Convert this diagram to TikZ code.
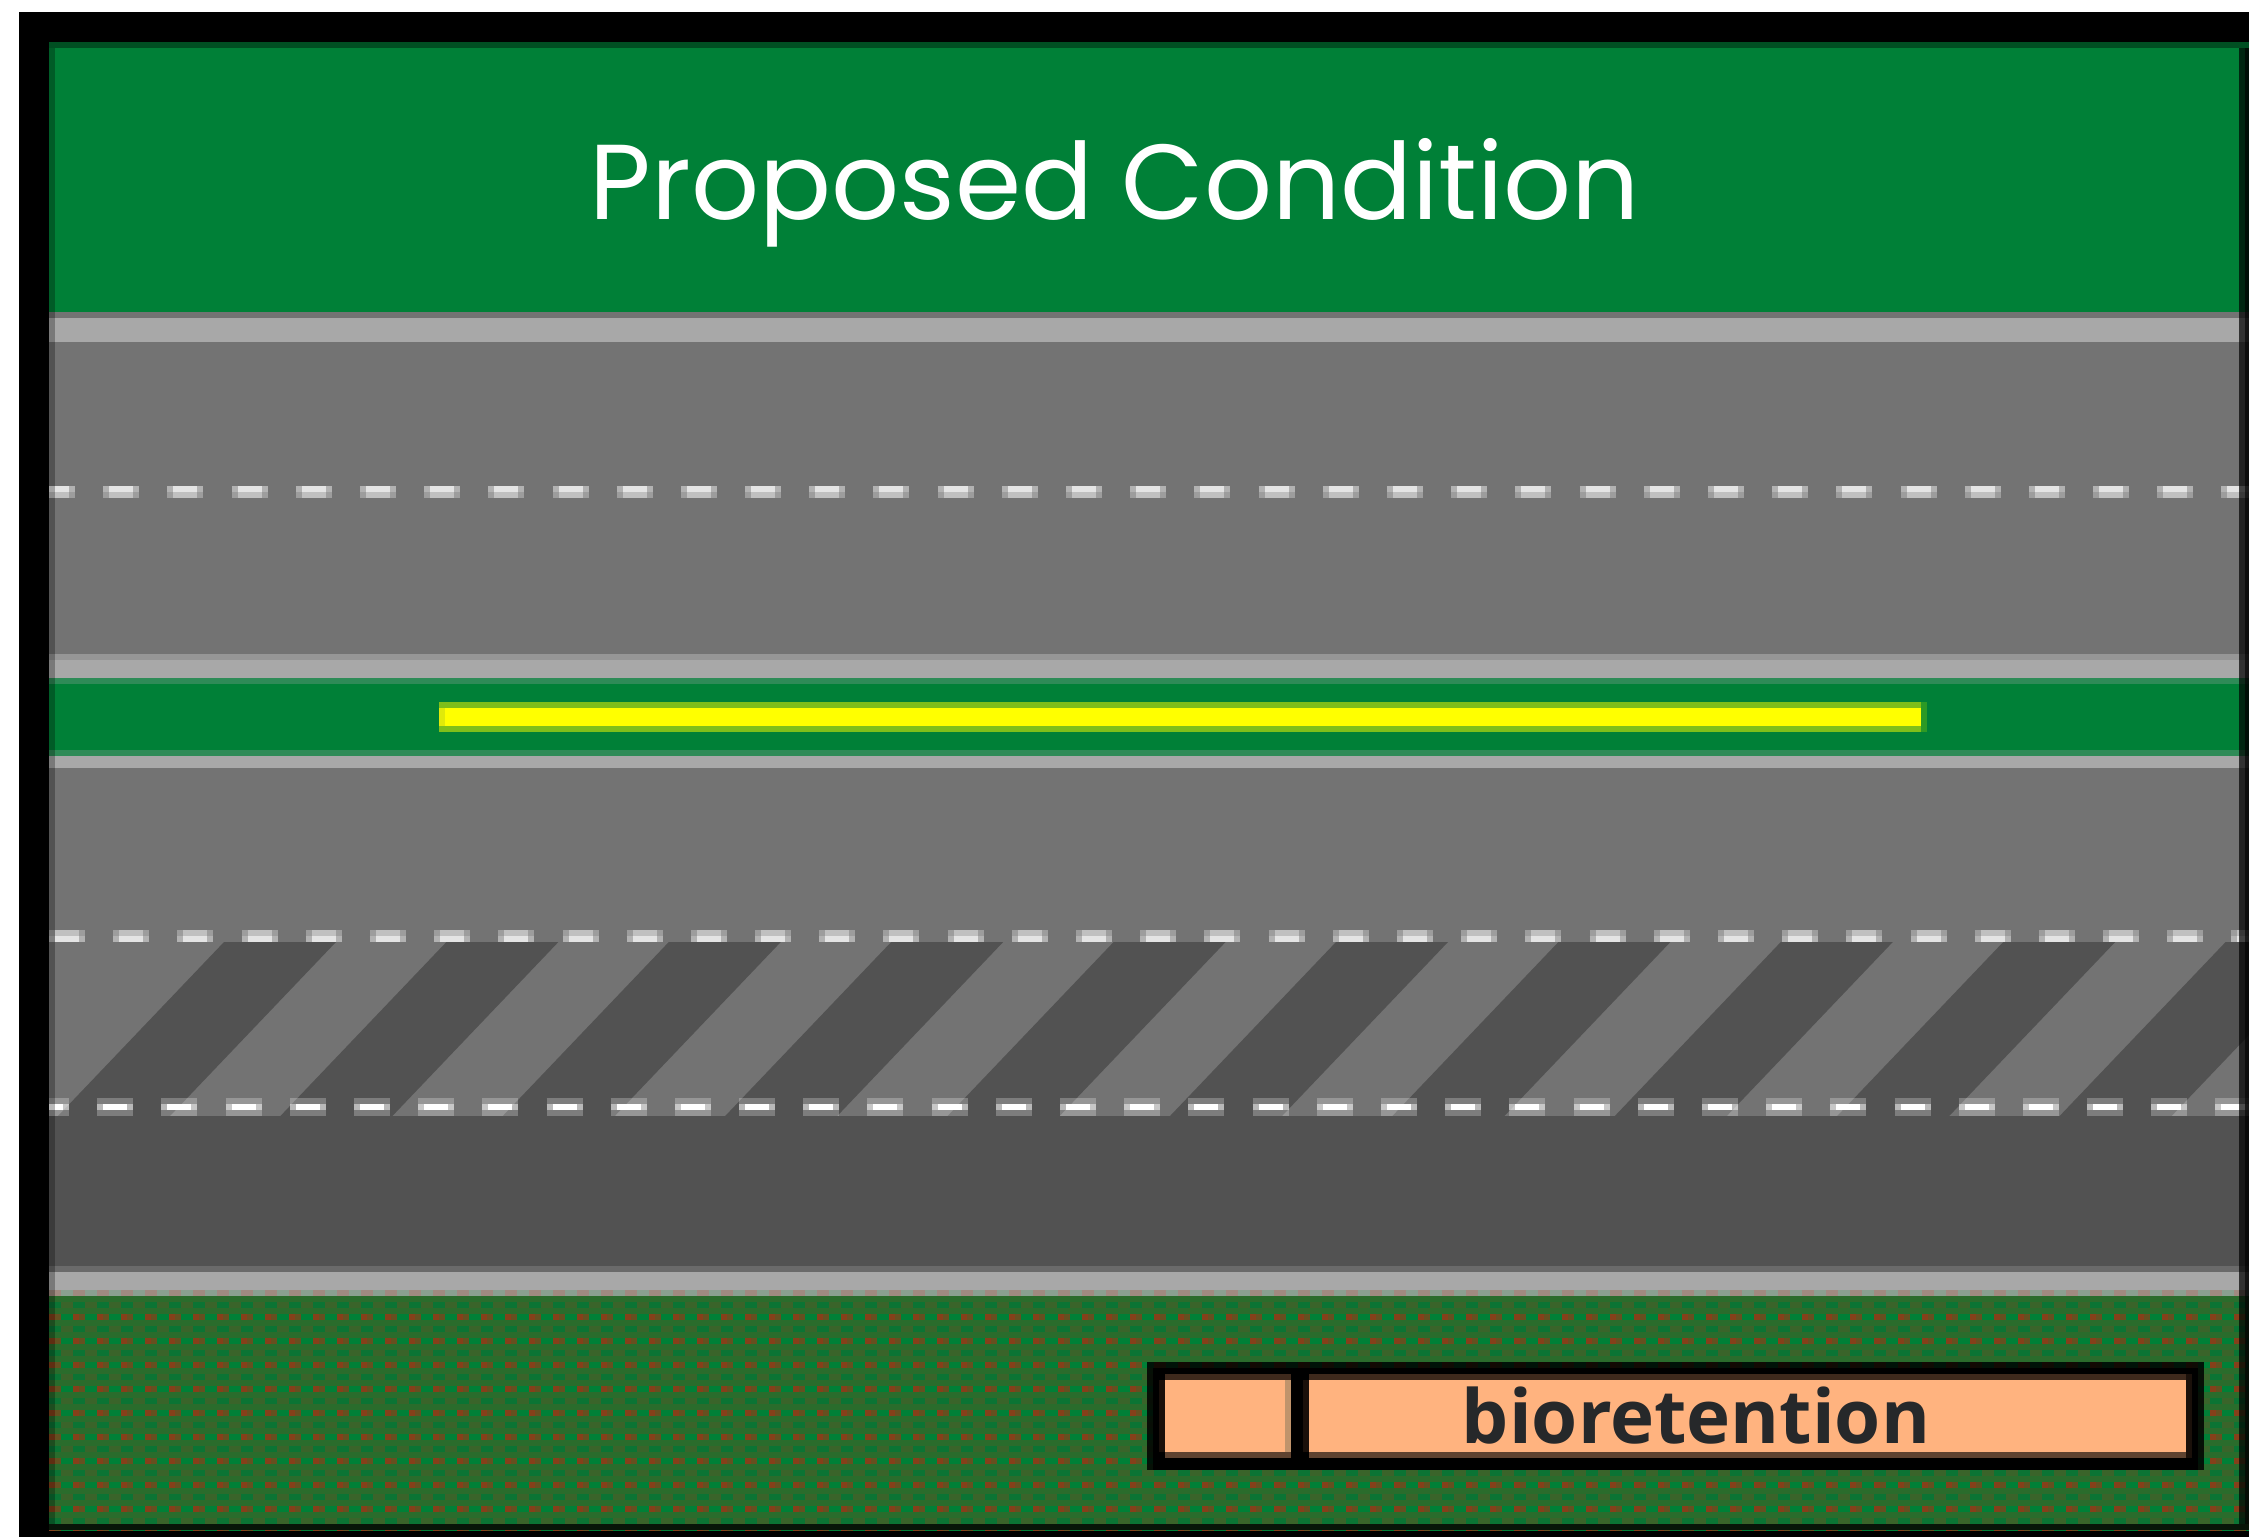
\documentclass[tikz,border=0pt]{standalone}
\usepackage{fontspec}
\usepackage{tikz}
\newfontfamily\titlefont{Poppins}
\newfontfamily\labelfont{Open Sans}
\definecolor{lawngreen}{RGB}{0,128,55}
\definecolor{medianedge}{RGB}{46,139,87}
\definecolor{roadgray}{RGB}{115,115,115}
\definecolor{darkroad}{RGB}{82,82,82}
\definecolor{curbgray}{RGB}{168,168,168}
\definecolor{curbshade}{RGB}{150,150,150}
\definecolor{curbfade}{RGB}{106,106,106}
\definecolor{soilbase}{RGB}{42,108,44}
\definecolor{soilgreen}{RGB}{11,116,52}
\definecolor{soilolive}{RGB}{58,100,42}
\definecolor{soilred}{RGB}{133,64,26}
\definecolor{soilbrown}{RGB}{101,80,32}
\definecolor{soilmixa}{RGB}{138,160,144}
\definecolor{soilmixb}{RGB}{160,138,128}
\definecolor{peach}{RGB}{255,179,127}
\definecolor{peachtop}{RGB}{62,41,28}
\definecolor{peachlow}{RGB}{95,67,48}
\definecolor{peachside}{RGB}{192,148,108}
\definecolor{peachdark}{RGB}{26,16,10}
\definecolor{inkgray}{RGB}{38,40,42}
\definecolor{stripeyellow}{RGB}{255,255,0}
\definecolor{stripeedge}{RGB}{127,191,26}
\definecolor{stripeleft}{RGB}{224,234,10}
\definecolor{stripefade}{RGB}{44,154,37}
\tikzset{
  lanewide/.style={white,line width=1.707pt,dash pattern=on 10.243pt off 8.010pt},
  lanecore/.style={white,line width=1.707pt,dash pattern=on 6.829pt off 11.424pt},
  soilhalf/.style={line width=1.707pt,dash pattern=on 3.414pt off 3.414pt},
  soildot/.style={line width=1.707pt,dash pattern=on 1.707pt off 5.121pt}
}
\begin{document}
\begin{tikzpicture}[x=0.01cm,y=-0.01cm]
\useasboundingbox (0,0) rectangle (2249,1537);
\fill[white] (0,0) rectangle (2249,1537);
\fill[black] (19,12) rectangle (2249,1537);

\begin{scope}
\clip (49,42) rectangle (2249,1530);

% bands
\fill[lawngreen] (49,42) rectangle (2249,312);
\fill[roadgray] (49,312) rectangle (2249,654);
\fill[curbgray] (49,318) rectangle (2249,342);
\fill[curbshade] (49,654) rectangle (2249,660);
\fill[curbgray] (49,660) rectangle (2249,678);
\fill[medianedge] (49,678) rectangle (2249,756);
\fill[lawngreen] (49,684) rectangle (2249,750);
\fill[curbgray] (49,756) rectangle (2249,768);
\fill[roadgray] (49,768) rectangle (2249,1116);
\fill[darkroad] (49,1116) rectangle (2249,1266);
\fill[curbfade] (49,1266) rectangle (2249,1272);
\fill[curbgray] (49,1272) rectangle (2249,1290);

% yellow line
\fill[stripeedge] (439,702) rectangle (1921,732);
\fill[stripefade] (1921,702) rectangle (1927,732);
\fill[stripeleft] (439,708) rectangle (445,726);
\fill[stripeyellow] (445,708) rectangle (1921,726);

% hatching
\foreach \k in {0,...,9} {
  \pgfmathsetmacro\topx{224+222.4*\k}
  \fill[darkroad] (\topx,942) -- ++(112,0) -- ++(-166,174) -- ++(-112,0) -- cycle;
}

% lane marks
\draw[lanewide,opacity=.45] (39,489) -- (2249,489);
\draw[lanewide,opacity=.3] (39,495) -- (2249,495);
\draw[lanecore,opacity=.65] (45,489) -- (2249,489);
\draw[lanecore,opacity=.36] (45,495) -- (2249,495);

\draw[lanewide,opacity=.3] (49,933) -- (2249,933);
\draw[lanewide,opacity=.45] (49,939) -- (2249,939);
\draw[lanecore,opacity=.36] (55,933) -- (2249,933);
\draw[lanecore,opacity=.65] (55,939) -- (2249,939);

\draw[lanewide,opacity=.25] (33,1101) -- (2249,1101);
\draw[lanewide,opacity=.6] (33,1107) -- (2249,1107);
\draw[lanewide,opacity=.25] (33,1113) -- (2249,1113);
\draw[lanecore] (39,1107) -- (2249,1107);

% soil pattern
\fill[soilbase] (49,1296) rectangle (2249,1530);
\fill[soilmixa] (49,1290) rectangle (2249,1296);
\draw[soilhalf,color=soilmixb] (49,1293) -- (2249,1293);
\foreach \r in {0,...,9} {
  \pgfmathsetmacro\rowa{1305+24*\r}
  \pgfmathsetmacro\rowb{1317+24*\r}
  \draw[soilgreen,line width=1.707pt] (49,\rowa) -- (2249,\rowa);
  \draw[soilhalf,color=soilolive] (61,\rowa) -- (2249,\rowa);
  \draw[lawngreen,line width=1.707pt] (49,\rowb) -- (2249,\rowb);
  \draw[soildot,color=soilred] (49,\rowb) -- (2249,\rowb);
  \draw[soildot,color=soilbrown] (55,\rowb) -- (2249,\rowb);
}

% bioretention box
\fill[black,opacity=.85] (1147,1362) rectangle (2204,1470);
\fill[black] (1153,1368) rectangle (2198,1470);
\fill[peachtop] (1165,1374) rectangle (1291,1380);
\fill[peachtop] (1309,1374) rectangle (2186,1380);
\fill[peachlow] (1165,1452) rectangle (1291,1458);
\fill[peachlow] (1309,1452) rectangle (2186,1458);
\fill[peachdark] (1159,1380) rectangle (1165,1452);
\fill[peachdark] (1303,1380) rectangle (1309,1452);
\fill[peachdark] (2186,1374) rectangle (2192,1458);
\fill[peach] (1165,1380) rectangle (1285,1452);
\fill[peachside] (1285,1380) rectangle (1291,1452);
\fill[peach] (1309,1380) rectangle (2186,1452);

% frame shading
\fill[black,opacity=.38] (49,42) rectangle (2249,48);
\fill[black,opacity=.28] (49,48) rectangle (55,1524);
\fill[black,opacity=.8] (49,1524) rectangle (2249,1530);
\fill[black,opacity=.7] (2239,48) rectangle (2245,1524);
\fill[black,opacity=.88] (2245,48) rectangle (2249,1524);
\end{scope}

\node[white,anchor=base,inner sep=0pt] (title) at (1115,220) {\titlefont\fontsize{30.3}{36}\selectfont Proposed Condition};
\node[inkgray,anchor=base,inner sep=0pt] (bioretention) at (1696,1443) {\labelfont\bfseries\fontsize{21.2}{26}\selectfont bioretention};

\end{tikzpicture}
\end{document}
